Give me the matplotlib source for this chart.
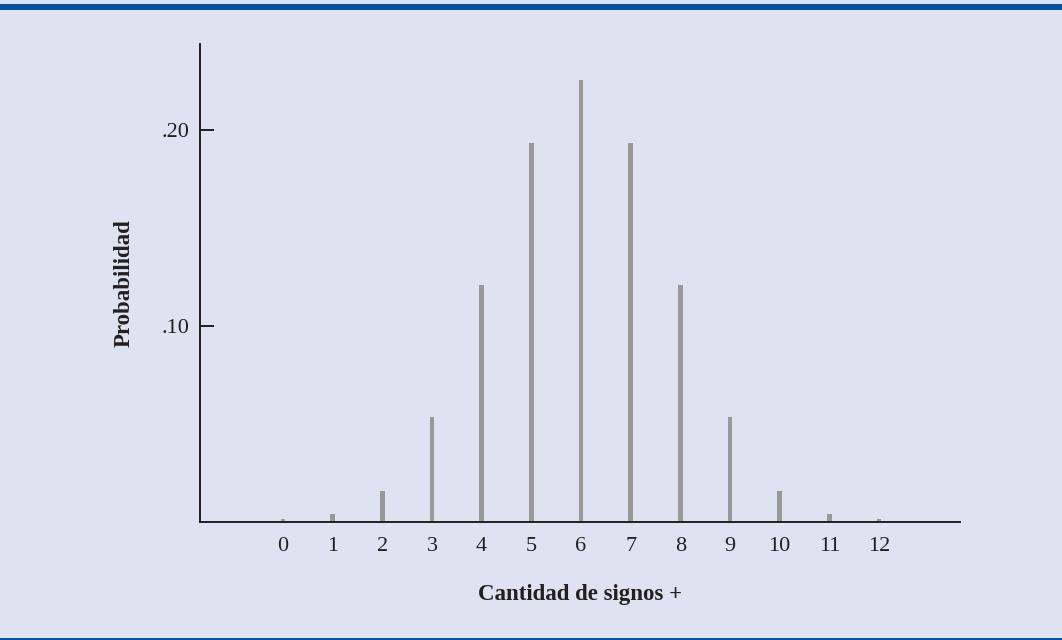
import matplotlib.pyplot as plt
from matplotlib.patches import Rectangle

# Datos
signos = [0, 1, 2, 3, 4, 5, 6, 7, 8, 9, 10, 11, 12]
probabilidad = [0.0015, 0.0039, 0.0158, 0.0536, 0.1210, 0.1935, 0.2256,
                0.1935, 0.1210, 0.0536, 0.0158, 0.0039, 0.0015]
ytick_vals = [0.10, 0.20]
ytick_labels = [".10", ".20"]

fondo = "#dfe3f1"
azul = "#0054a0"
tinta = "#231f20"

plt.rcParams['font.family'] = ['Liberation Serif', 'DejaVu Serif']

fig = plt.figure(figsize=(10.62, 6.4), dpi=100)
fig.patch.set_facecolor(fondo)

# franja azul arriba y linea abajo
fig.patches.append(Rectangle((0, 1 - 10 / 640), 1, 6 / 640, transform=fig.transFigure,
                             facecolor=azul, edgecolor='none'))
fig.patches.append(Rectangle((0, 0), 1, 2 / 640, transform=fig.transFigure,
                             facecolor=azul, edgecolor='none'))

ax = fig.add_axes([200 / 1062, 1 - 522 / 640, 760 / 1062, 478 / 640])
ax.set_facecolor(fondo)

ax.bar(signos, probabilidad, width=0.09, color="#999999", zorder=2)

ax.set_xlim(-1.67, 13.63)
ax.set_ylim(0, 0.2439)

ax.spines['top'].set_visible(False)
ax.spines['right'].set_visible(False)
for s in ['left', 'bottom']:
    ax.spines[s].set_linewidth(1.4)
    ax.spines[s].set_color(tinta)
    ax.spines[s].set_zorder(3)

ax.set_xticks(signos)
ax.set_xticklabels([str(s) for s in signos])
ax.tick_params(axis='x', length=0, pad=11, labelsize=16, labelcolor=tinta)

ax.set_yticks(ytick_vals)
ax.set_yticklabels(ytick_labels)
ax.tick_params(axis='y', direction='in', length=10, width=1.4, color=tinta,
               pad=8, labelsize=16, labelcolor=tinta)

ax.set_xlabel("Cantidad de signos +", fontsize=16.5, fontweight='bold', color=tinta, labelpad=20)
ax.set_ylabel("Probabilidad", fontsize=16.5, fontweight='bold', color=tinta, labelpad=19)

fig.savefig("out.png", dpi=100, facecolor=fondo)
